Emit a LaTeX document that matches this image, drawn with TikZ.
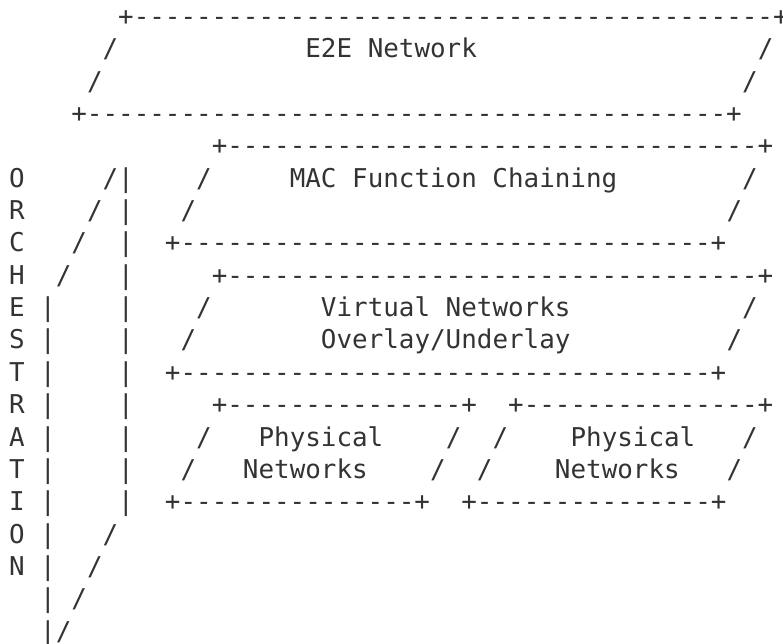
\documentclass[tikz,border=0pt]{standalone}
\usepackage{fontspec}
\setmonofont{DejaVu Sans Mono}
\definecolor{ink}{HTML}{333333}
\tikzset{
  ascii/.style={anchor=base west, inner sep=0pt, outer sep=0pt,
    font=\ttfamily\fontsize{25.9pt}{31pt}\selectfont, text=ink}
}
% slanted box of characters: name, column, row, number of dashes
\newcommand\asciibox[4]{%
  \node[ascii] (#1-top) at (#2,#3) {+\foreach\k in {1,...,#4}{-}+};
  \node[ascii] (#1-l1) at (#2-1,#3+1) {/};
  \node[ascii] (#1-r1) at (#2+#4,#3+1) {/};
  \node[ascii] (#1-l2) at (#2-2,#3+2) {/};
  \node[ascii] (#1-r2) at (#2+#4-1,#3+2) {/};
  \node[ascii] (#1-bot) at (#2-3,#3+3) {+\foreach\k in {1,...,#4}{-}+};
}

\begin{document}
\begin{tikzpicture}[x=15.6pt, y=-32.35pt]
  \useasboundingbox (-0.577,-0.788) rectangle (49.616,19.119);

  \asciibox{e2e}{7}{0}{41}
  \asciibox{mac}{13}{4}{34}
  \asciibox{virt}{13}{8}{34}
  \asciibox{phyA}{13}{12}{15}
  \asciibox{phyB}{32}{12}{15}

  \node[ascii] (e2e-label) at (19,1) {E2E Network};
  \node[ascii] (mac-label) at (18,5) {MAC Function Chaining};
  \node[ascii] (virt-label) at (20,9) {Virtual Networks};
  \node[ascii] (virt-label2) at (20,10) {Overlay/Underlay};
  \node[ascii] (phyA-label) at (16,13) {Physical};
  \node[ascii] (phyA-label2) at (15,14) {Networks};
  \node[ascii] (phyB-label) at (36,13) {Physical};
  \node[ascii] (phyB-label2) at (35,14) {Networks};

  % orchestration pillar
  \foreach \ch [count=\r from 5] in {O,R,C,H,E,S,T,R,A,T,I,O,N}
    \node[ascii] (orch-\r) at (0,\r) {\ch};
  \foreach \r in {5,...,15}
    \node[ascii] (back-\r) at (7,\r) {|};
  \foreach \r in {9,...,19}
    \node[ascii] (front-\r) at (2,\r) {|};
  \foreach \r in {5,...,8}
    \node[ascii] (lid-\r) at (11-\r,\r) {/};
  \foreach \r in {16,...,19}
    \node[ascii] (base-\r) at (22-\r,\r) {/};
\end{tikzpicture}
\end{document}
